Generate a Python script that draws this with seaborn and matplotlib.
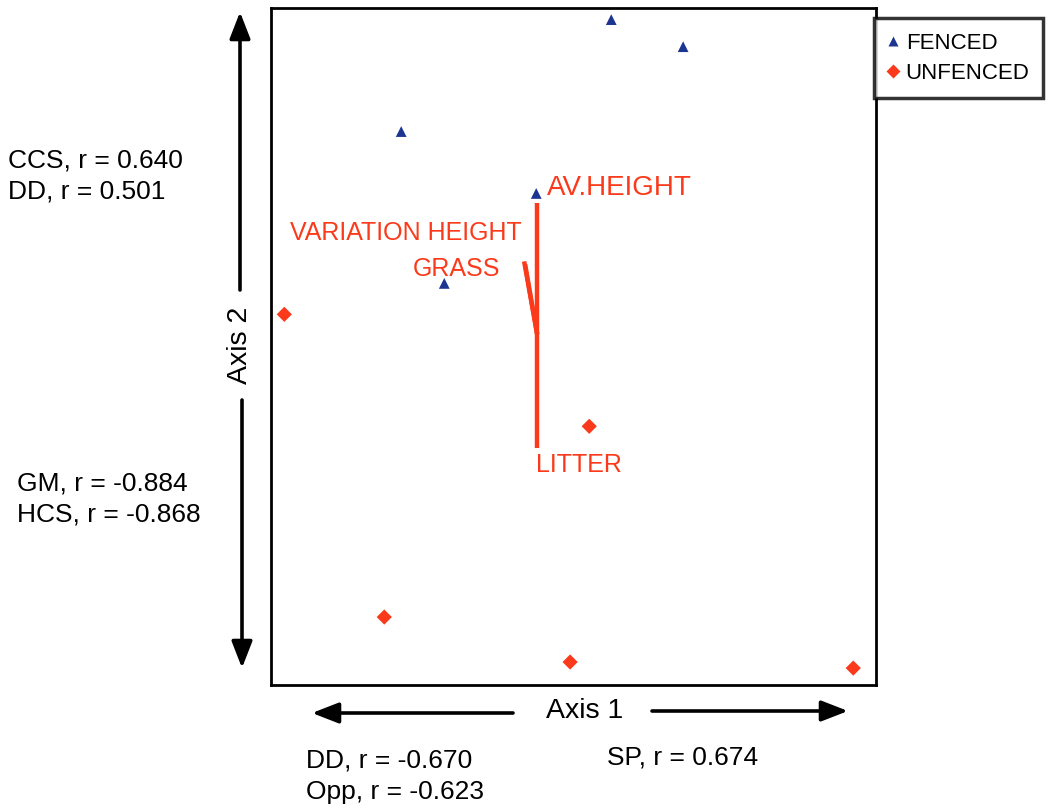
import matplotlib
matplotlib.use("Agg")
import matplotlib.pyplot as plt
import seaborn as sns
import pandas as pd

# NMDS site scores
fenced_x = [0.306, 0.603, -0.562, -0.004, -0.384]
fenced_y = [1.302, 1.190, 0.839, 0.583, 0.211]
unfenced_x = [-1.045, 0.215, -0.632, 0.136, 1.306]
unfenced_y = [0.083, -0.380, -1.169, -1.355, -1.380]
groups = ["FENCED", "UNFENCED"]

# Environmental vectors (end points, from the origin)
vec_names = ["AV.HEIGHT", "VARIATION HEIGHT", "GRASS", "LITTER"]
vec_x = [0.0, -0.054, -0.050, 0.0]
vec_y = [0.545, 0.302, 0.290, -0.471]

# Species correlations with each axis
axis2_pos = ["CCS, r = 0.640", "DD, r = 0.501"]
axis2_neg = ["GM, r = -0.884", "HCS, r = -0.868"]
axis1_neg = ["DD, r = -0.670", "Opp, r = -0.623"]
axis1_pos = ["SP, r = 0.674"]

BLUE = "#1c3591"
RED = "#fb3a1b"

sns.set_theme(style="white")
plt.rcParams["font.family"] = ["Liberation Sans", "DejaVu Sans"]
plt.rcParams["text.color"] = "black"

df = pd.DataFrame({
    "x": fenced_x + unfenced_x,
    "y": fenced_y + unfenced_y,
    "group": [groups[0]] * len(fenced_x) + [groups[1]] * len(unfenced_x),
})

fig = plt.figure(figsize=(10.49, 8.08), dpi=100)
ax = fig.add_axes([271 / 1049, 1 - 685 / 808, 605 / 1049, 677 / 808])

sns.scatterplot(
    data=df, x="x", y="y", hue="group", style="group",
    palette={groups[0]: BLUE, groups[1]: RED},
    markers={groups[0]: "^", groups[1]: "D"},
    s=60, edgecolor="none", ax=ax,
)

# Vectors
for vx, vy in zip(vec_x, vec_y):
    ax.plot([0, vx], [0, vy], color=RED, lw=3.2, solid_capstyle="butt", zorder=1)

ax.text(vec_x[0] + 0.04, vec_y[0] + 0.06, vec_names[0], color=RED,
        fontsize=20, ha="left", va="center")
ax.text(vec_x[1] - 0.008, vec_y[1] + 0.116, vec_names[1], color=RED,
        fontsize=18, ha="right", va="center")
ax.text(vec_x[2] - 0.103, vec_y[2] - 0.021, vec_names[2], color=RED,
        fontsize=18, ha="right", va="center")
ax.text(vec_x[3] - 0.005, vec_y[3] - 0.07, vec_names[3], color=RED,
        fontsize=18, ha="left", va="center")

ax.set_xlim(-1.1, 1.4)
ax.set_ylim(-1.45, 1.35)
ax.set_xticks([])
ax.set_yticks([])
ax.set_xlabel("")
ax.set_ylabel("")
for sp in ax.spines.values():
    sp.set_visible(True)
    sp.set_color("black")
    sp.set_linewidth(2.0)

sns.move_legend(
    ax, "upper left", bbox_to_anchor=(0.997, 0.985), title=None,
    frameon=True, fontsize=16, handletextpad=0.35, borderpad=0.62,
    labelspacing=0.35, handlelength=0.45, handleheight=0.95,
    fancybox=False, borderaxespad=0,
)
leg = ax.get_legend()
leg.get_frame().set_edgecolor("black")
leg.get_frame().set_linewidth(2.5)
for h in leg.legend_handles:
    h.set_markersize(7)


def fp(px, py):
    return (px / 1049, 1 - py / 808)


arrow = dict(arrowstyle="-|>,head_length=0.9,head_width=0.35",
             color="black", lw=2.6, mutation_scale=18, shrinkA=0, shrinkB=0)
for start, end in [((240, 290), (240, 12)), ((242, 400), (242, 668)),
                   ((513, 713), (312, 713)), ((652, 711), (848, 711))]:
    ax.annotate("", xy=fp(*end), xytext=fp(*start), xycoords="figure fraction",
                textcoords="figure fraction", arrowprops=arrow, annotation_clip=False)

fig.text(*fp(585, 711), "Axis 1", fontsize=20.5, ha="center", va="center")
fig.text(*fp(240, 345), "Axis 2", fontsize=20.5, ha="center", va="center", rotation=90)

fig.text(*fp(8, 176), "\n".join(axis2_pos), fontsize=19, ha="left", va="center",
         linespacing=1.4)
fig.text(*fp(17, 499), "\n".join(axis2_neg), fontsize=19, ha="left", va="center",
         linespacing=1.4)
fig.text(*fp(306, 776), "\n".join(axis1_neg), fontsize=19, ha="left", va="center",
         linespacing=1.4)
fig.text(*fp(607, 757), axis1_pos[0], fontsize=19, ha="left", va="center")

fig.savefig("out.png", dpi=100, facecolor="white")
